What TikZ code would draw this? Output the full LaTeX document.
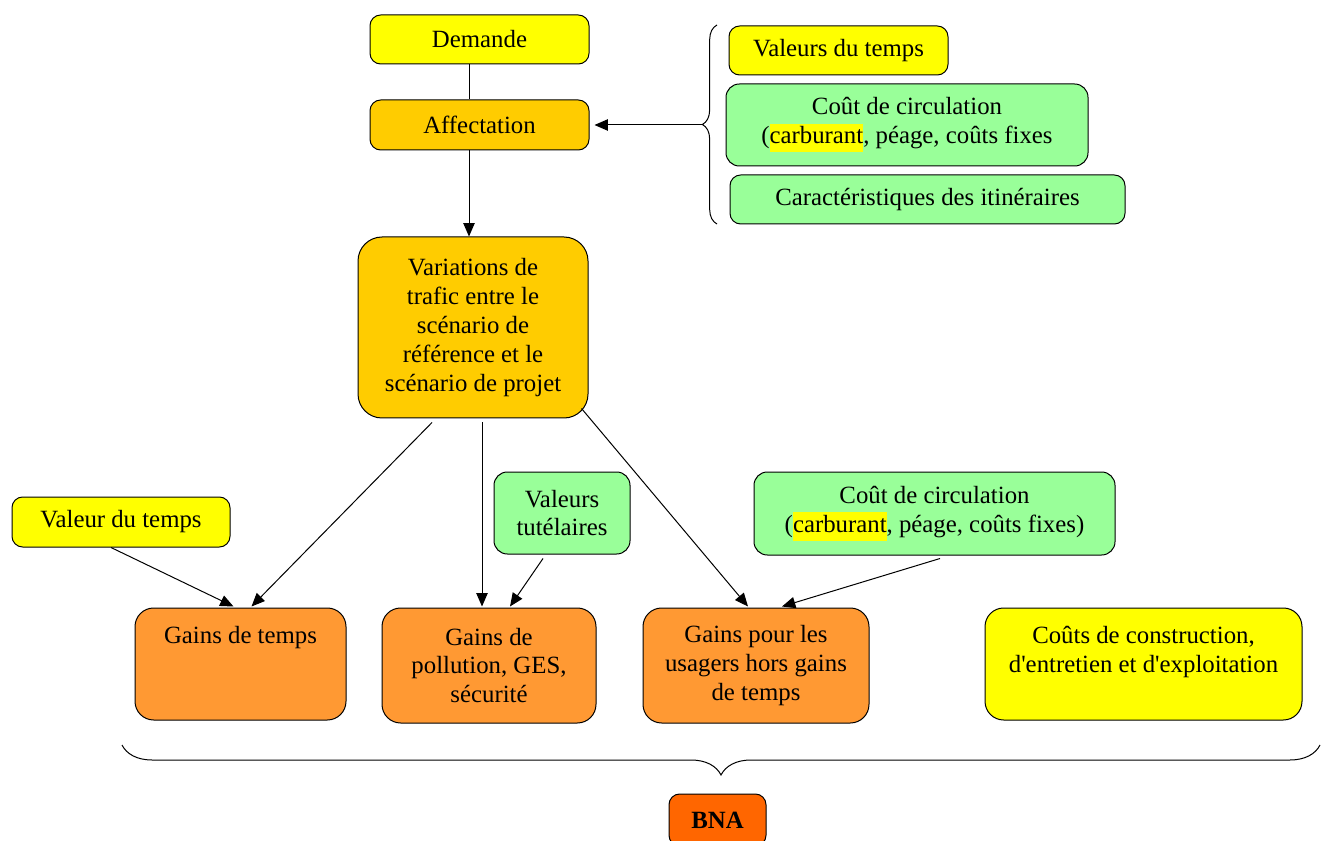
\documentclass[tikz,border=0pt]{standalone}
\usepackage{fontspec}
\setmainfont{Liberation Serif}
\usetikzlibrary{arrows.meta,calc,decorations.pathreplacing}
\definecolor{cyel}{HTML}{FFFF00}
\definecolor{cgold}{HTML}{FFCC00}
\definecolor{cgreen}{HTML}{99FF99}
\definecolor{corange}{HTML}{FF9933}
\definecolor{cbna}{HTML}{FF6600}
\newcommand\hltxt[1]{{\setlength{\fboxsep}{0pt}\colorbox{cyel}{\strut #1}}}
\begin{document}
\begin{tikzpicture}[x=0.75pt,y=-0.75pt,
  font=\fontsize{18.6}{21.6}\selectfont,
  box/.style={draw=black, line width=0.75pt, rounded corners=8pt, align=center, inner sep=0pt},
  ybox/.style={box, fill=cyel},
  gbox/.style={box, fill=cgold},
  grbox/.style={box, fill=cgreen},
  obox/.style={box, fill=corange, rounded corners=14pt},
  arr/.style={-{Triangle[length=10pt,width=8.5pt]}, line width=0.75pt},
  plain/.style={line width=0.75pt},
  bracestyle/.style={line width=0.75pt, decorate}]
\useasboundingbox (0,0) rectangle (1328,841);
\clip (0,0) rectangle (1328,841);

% top column
\node[ybox, minimum width=164.25pt, minimum height=36.75pt] (dem) at (479.5,39.5) {Demande};
\node[gbox, minimum width=164.25pt, minimum height=37.5pt] (aff) at (479.5,125) {Affectation};
\node[gbox, rounded corners=18pt, minimum width=172.5pt, minimum height=135.75pt] (var) at (473,327.5)
  {Variations de\\trafic entre le\\scénario de\\référence et le\\scénario de projet};

% right group
\node[ybox, minimum width=164.25pt, minimum height=36.75pt] (vt1) at (838.5,50.5) {Valeurs du temps};
\node[grbox, rounded corners=10pt, minimum width=271.5pt, minimum height=61.5pt] (cc1) at (907,125)
  {Coût de circulation\\(\hltxt{carburant}, péage, coûts fixes};
\node[grbox, minimum width=296.25pt, minimum height=36.75pt] (car) at (927.5,199.5) {Caractéristiques des itinéraires};

% middle inputs
\node[ybox, minimum width=163.5pt, minimum height=37.5pt] (vdt) at (121,522) {Valeur du temps};
\node[grbox, rounded corners=10pt, minimum width=102pt, minimum height=61.5pt] (vtu) at (562,513) {Valeurs\\tutélaires};
\node[grbox, rounded corners=10pt, minimum width=270.75pt, minimum height=62.25pt] (cc2) at (934.5,513.5)
  {Coût de circulation\\(\hltxt{carburant}, péage, coûts fixes)};

% gains
\node[obox, minimum width=158.25pt, minimum height=84pt] (gt) at (240.5,664) {Gains de temps\\\mbox{}\\\mbox{}};
\node[obox, minimum width=160.5pt, minimum height=86.25pt] (gp) at (489,665.5) {Gains de\\pollution, GES,\\sécurité};
\node[obox, minimum width=169.5pt, minimum height=86.25pt] (gu) at (756,665.5) {Gains pour les\\usagers hors gains\\de temps};
\node[ybox, rounded corners=14pt, minimum width=237.75pt, minimum height=84pt] (cst) at (1143.5,664)
  {Coûts de construction,\\d\textquotesingle entretien et d\textquotesingle exploitation\\\mbox{}};

% BNA
\node[box, fill=cbna, rounded corners=8pt, minimum width=72.75pt, minimum height=39pt, font=\fontsize{18.6}{21.6}\selectfont\bfseries] (bna) at (717.5,820) {BNA};

% braces
\draw[bracestyle, decoration={brace, amplitude=11pt}] (717,224) -- (717,25);
\coordinate (bt) at (702,125);
\draw[bracestyle, decoration={brace, amplitude=22.5pt}] (1320,745) -- (122,745);

% connectors
\draw[plain] ($(dem.south)+(-10.5,0)$) -- ($(aff.north)+(-10.5,0)$);
\draw[arr] ($(aff.south)+(-10.5,0)$) -- ($(var.north)+(-4,0)$);
\draw[arr] (bt) -- ($(aff.east)+(5,0)$);
\draw[arr] ($(var.south)+(-41,4)$) -- ($(gt.north)+(11,-1)$);
\draw[arr] ($(vdt.south)+(-10,0)$) -- ($(gt.north)+(-7,-1)$);
\draw[arr] ($(var.south)+(9,4)$) -- ($(gp.north)+(-7,-1)$);
\draw[arr] ($(vtu.south)+(-19,4)$) -- ($(gp.north)+(21,-1)$);
\draw[arr] ($(var.south east)+(-7,-10)$) -- ($(gu.north)+(-8,-1)$);
\draw[arr] ($(cc2.south)+(5.5,3)$) -- ($(gu.north)+(26,-1)$);
\end{tikzpicture}
\end{document}
